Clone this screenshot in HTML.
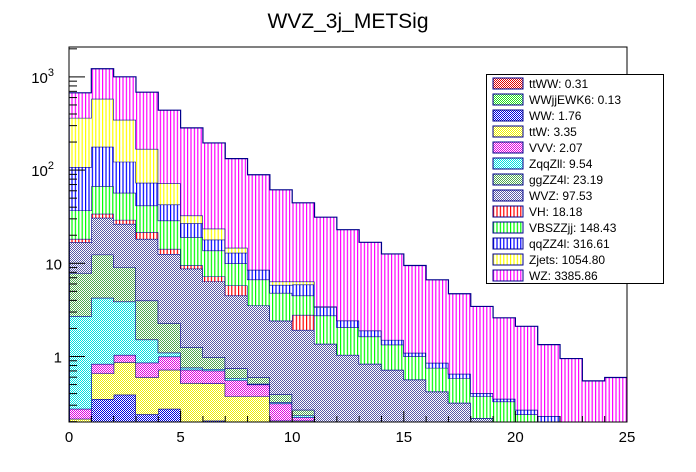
<!DOCTYPE html>
<html><head><meta charset="utf-8"><style>
html,body{margin:0;padding:0;background:#fff}
svg{display:block}
text{font-family:"Liberation Sans",Arial,sans-serif}
</style></head><body>
<svg id="chart" width="696" height="472" viewBox="0 0 696 472" xmlns="http://www.w3.org/2000/svg">
<defs>
<pattern id="p-ttww" width="2" height="2" patternUnits="userSpaceOnUse"><rect width="2" height="2" fill="#fff"/><rect width="1" height="1" fill="#e00000"/><rect x="1" y="1" width="1" height="1" fill="#e00000"/></pattern>
<pattern id="p-wwjj" width="2" height="2" patternUnits="userSpaceOnUse"><rect width="2" height="2" fill="#fff"/><rect width="1" height="1" fill="#20e020"/><rect x="1" y="1" width="1" height="1" fill="#20e020"/></pattern>
<pattern id="p-ww" width="2" height="2" patternUnits="userSpaceOnUse"><rect width="2" height="2" fill="#fff"/><rect width="1" height="1" fill="#0000e0"/><rect x="1" y="1" width="1" height="1" fill="#0000e0"/></pattern>
<pattern id="p-ttw" width="2" height="2" patternUnits="userSpaceOnUse"><rect width="2" height="2" fill="#fff"/><rect width="1" height="1" fill="#f0f000"/><rect x="1" y="1" width="1" height="1" fill="#f0f000"/></pattern>
<pattern id="p-vvv" width="2" height="2" patternUnits="userSpaceOnUse"><rect width="2" height="2" fill="#fff"/><rect width="1" height="1" fill="#e000e0"/><rect x="1" y="1" width="1" height="1" fill="#e000e0"/></pattern>
<pattern id="p-zqq" width="2" height="2" patternUnits="userSpaceOnUse"><rect width="2" height="2" fill="#fff"/><rect width="1" height="1" fill="#00e0e0"/><rect x="1" y="1" width="1" height="1" fill="#00e0e0"/></pattern>
<pattern id="p-ggzz" width="2" height="2" patternUnits="userSpaceOnUse"><rect width="2" height="2" fill="#fff"/><rect width="1" height="1" fill="#50a850"/><rect x="1" y="1" width="1" height="1" fill="#50a850"/></pattern>
<pattern id="p-wvz" width="2" height="2" patternUnits="userSpaceOnUse"><rect width="2" height="2" fill="#fff"/><rect width="1" height="1" fill="#5858a8"/><rect x="1" y="1" width="1" height="1" fill="#5858a8"/></pattern>
<pattern id="p-vh" width="3.4" height="4" patternUnits="userSpaceOnUse"><rect width="3.4" height="4" fill="#fff"/><rect width="1.2" height="4" fill="#ff0000"/></pattern>
<pattern id="p-vbs" width="3.4" height="4" patternUnits="userSpaceOnUse"><rect width="3.4" height="4" fill="#fff"/><rect width="1.2" height="4" fill="#00ff00"/></pattern>
<pattern id="p-qqzz" width="3.4" height="4" patternUnits="userSpaceOnUse"><rect width="3.4" height="4" fill="#fff"/><rect width="1.2" height="4" fill="#0000ff"/></pattern>
<pattern id="p-zjets" width="3.4" height="4" patternUnits="userSpaceOnUse"><rect width="3.4" height="4" fill="#fff"/><rect width="1.2" height="4" fill="#ffff00"/></pattern>
<pattern id="p-wz" width="3.4" height="4" patternUnits="userSpaceOnUse"><rect width="3.4" height="4" fill="#fff"/><rect width="1.2" height="4" fill="#ff00ff"/></pattern>
<clipPath id="plotclip"><rect x="69" y="47" width="558" height="375"/></clipPath>
</defs>
<text x="348" y="28" font-size="21" text-anchor="middle">WVZ_3j_METSig</text>
<g id="layers" clip-path="url(#plotclip)"></g>
<rect x="69" y="47" width="558" height="375" fill="none" stroke="#000" stroke-width="1"/>
<g id="axes"></g>
<g id="legend"></g>
</svg>
<script>
// Data (bottom-to-top stacking order), 25 bins of width 1 from 0 to 25
const binEdgesMin = 0;
const binWidth = 1;
const ttWW    = [0.02,0.03,0.04,0.03,0.03,0.01,0.01,0.005,0.005,0,0,0,0,0,0,0,0,0,0,0,0,0,0,0,0];
const WWjjEWK6= [0.01,0.01,0.01,0.01,0.01,0.005,0.005,0.005,0.005,0,0,0,0,0,0,0,0,0,0,0,0,0,0,0,0];
const WW      = [0.15,0.31,0.34,0.20,0.235,0.005,0.19,0.005,0.005,0.005,0.005,0,0,0,0,0,0,0,0,0,0,0,0,0,0];
const ttW     = [0.035,0.31,0.48,0.36,0.445,0.5,0.31,0.36,0.36,0.2,0.2,0.1,0.05,0,0,0,0,0,0,0,0,0,0,0,0];
const VVV     = [0.06,0.173,0.17,0.26,0.28,0.2,0.19,0.18,0.125,0.108,0.018,0.05,0.02,0,0,0,0,0,0,0,0,0,0,0,0];
const ZqqZll  = [2.435,3.43,2.85,0.66,0.1,0.04,0.03,0.03,0.01,0.01,0.01,0,0,0,0,0,0,0,0,0,0,0,0,0,0];
const ggZZ4l  = [5.12,8.14,5.19,2.47,1.18,0.5,0.25,0.16,0.09,0.07,0.035,0.05,0.02,0,0,0,0,0,0,0,0,0,0,0,0];
const WVZ     = [8.97,18.4,17.4,14.3,10.3,7.5,5.4,3.77,2.93,2.03,1.66,1.17,0.95,0.835,0.72,0.567,0.421,0.319,0.218,0.1,0.05,0.03,0.02,0,0];
const VH      = [1.5,3.2,2.8,3.3,1.7,0.74,0.84,1.27,0,0,0.87,0,0,0,0,0,0,0,0,0,0,0,0,0,0];
const VBSZZjj = [18.6,33.2,27.8,20.1,14.5,9.6,6.5,4.2,3.17,2.39,1.71,1.38,1.02,0.805,0.62,0.44,0.335,0.266,0.157,0.229,0.189,0.15,0.02,0,0];
const qqZZ4l  = [71,111,66,31.4,14,7.8,4.2,3.0,1.82,1.06,1.41,0.63,0.37,0.26,0.17,0.09,0.10,0.067,0.029,0.023,0.029,0.05,0.01,0,0];
const Zjets   = [256,404,224,96,29.5,5.7,5.6,1.7,0,0.5,0.46,0.06,0,0,0,0,0,0,0,0,0,0,0,0,0];
const WZ      = [311,640,655,516,367,251,172,118,80.6,55.1,38.2,27.8,20.5,14.9,11.1,8.37,5.79,4.06,3.04,2.25,1.84,1.11,0.9,0.548,0.595];
const seriesNames = ["ttWW","WWjjEWK6","WW","ttW","VVV","ZqqZll","ggZZ4l","WVZ","VH","VBSZZjj","qqZZ4l","Zjets","WZ"];
const seriesTotals = ["0.31","0.13","1.76","3.35","2.07","9.54","23.19","97.53","18.18","148.43","316.61","1054.80","3385.86"];
const xTickLabels = ["0","5","10","15","20","25"];
const yTickLabels = ["1","10","10²","10³"];

const seriesData = [ttWW,WWjjEWK6,WW,ttW,VVV,ZqqZll,ggZZ4l,WVZ,VH,VBSZZjj,qqZZ4l,Zjets,WZ];
const fills = ["p-ttww","p-wwjj","p-ww","p-ttw","p-vvv","p-zqq","p-ggzz","p-wvz","p-vh","p-vbs","p-qqzz","p-zjets","p-wz"];
const NS = "http://www.w3.org/2000/svg";
const X0 = 69, X1 = 627, Y0 = 47, Y1 = 422;
const xMin = 0, xMax = 25;
const yOne = 356.5, decade = 93.2;
function sx(v){ return X0 + (v - xMin) / (xMax - xMin) * (X1 - X0); }
function sy(v){ if (v <= 0) return Y1 + 5; const y = yOne - decade * Math.log10(v); return Math.min(Y1 + 5, y); }
function el(tag, attrs){ const e = document.createElementNS(NS, tag); for (const k in attrs) e.setAttribute(k, attrs[k]); return e; }

const layers = document.getElementById('layers');
const nb = WZ.length;
let cum = new Array(nb).fill(0);
const tops = [];
seriesData.forEach((s, si) => {
  const lower = cum.slice();
  const upper = cum.map((c, i) => c + s[i]);
  tops.push({lower, upper});
  cum = upper;
});
// draw from bottom to top
tops.forEach((t, si) => {
  let pts = [];
  for (let i = 0; i < nb; i++) {
    const xa = sx(binEdgesMin + i * binWidth), xb = sx(binEdgesMin + (i + 1) * binWidth);
    const y = sy(t.upper[i]);
    pts.push(xa + "," + y, xb + "," + y);
  }
  for (let i = nb - 1; i >= 0; i--) {
    const xa = sx(binEdgesMin + i * binWidth), xb = sx(binEdgesMin + (i + 1) * binWidth);
    const y = sy(t.lower[i]);
    pts.push(xb + "," + y, xa + "," + y);
  }
  const poly = el('polygon', {points: pts.join(' '), fill: 'url(#' + fills[si] + ')', stroke: 'none'});
  
  
  layers.appendChild(poly);
  // outline of cumulative top
  let d = '';
  for (let i = 0; i < nb; i++) {
    const xa = sx(binEdgesMin + i * binWidth), xb = sx(binEdgesMin + (i + 1) * binWidth);
    const y = sy(t.upper[i]);
    d += (i === 0 ? 'M' + xa + ',' + (Y1 + 5) + 'L' : 'L') + xa + ',' + y + 'L' + xb + ',' + y;
  }
  d += 'L' + sx(xMax) + ',' + (Y1 + 5);
  const line = el('path', {d: d, fill: 'none', stroke: '#00008b', 'stroke-width': 1.2});
  
  
  layers.appendChild(line);
});

// Axes
const axes = document.getElementById('axes');
for (let v = 0; v <= 25; v++) {
  const major = v % 5 === 0;
  const x = sx(v);
  const t = el('line', {x1: x, x2: x, y1: Y1, y2: Y1 - (major ? 11 : 6), stroke: '#000', 'stroke-width': 1});
  
  
  axes.appendChild(t);
}
xTickLabels.forEach((lab) => {
  const tx = el('text', {x: sx(parseFloat(lab)), y: 442, 'font-size': 15, 'text-anchor': 'middle'});
  
  
  tx.textContent = lab;
  axes.appendChild(tx);
});
for (let e = -1; e <= 3; e++) {
  for (let m = 1; m <= 9; m++) {
    const v = m * Math.pow(10, e);
    const y = yOne - decade * Math.log10(v);
    if (y < Y0 || y > Y1) continue;
    const t = el('line', {x1: X0, x2: X0 + (m === 1 ? 16 : 8), y1: y, y2: y, stroke: '#000', 'stroke-width': 1});
    
    
    axes.appendChild(t);
  }
}
yTickLabels.forEach((lab, i) => {
  const y = yOne - decade * i;
  const tx = el('text', {x: 62, y: y + 6, 'font-size': 15, 'text-anchor': 'end'});
  
  
  if (i >= 2) {
    tx.setAttribute('x', 54);
    tx.textContent = '10';
    const sup = el('tspan', {dy: -7, 'font-size': 11});
    sup.textContent = String(i);
    tx.appendChild(sup);
  } else tx.textContent = lab;
  axes.appendChild(tx);
});

// Legend
const legend = document.getElementById('legend');
const box = el('rect', {x: 486.5, y: 74.5, width: 177, height: 209, fill: '#fff', stroke: '#000', 'stroke-width': 1});


legend.appendChild(box);
seriesNames.forEach((n, i) => {
  const cy = 83.5 + i * 16;
  const g = el('g', {});
  
  
  g.appendChild(el('rect', {x: 493, y: cy - 5.5, width: 30, height: 11, fill: 'url(#' + fills[i] + ')', stroke: '#00008b', 'stroke-width': 1}));
  const tx = el('text', {x: 529, y: cy + 4.5, 'font-size': 12});
  tx.textContent = n + ': ' + seriesTotals[i];
  g.appendChild(tx);
  legend.appendChild(g);
});
</script>
</body></html>
